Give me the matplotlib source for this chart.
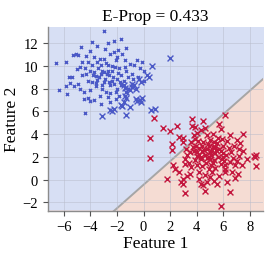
import numpy as np
import matplotlib.pyplot as plt

plt.rcParams['font.family'] = ['Liberation Serif', 'DejaVu Serif']

# cluster 1: small markers
blue_small_x = [-6.6, -6.4, -5.8, -5.75, -5.6, -5.35, -5.3, -5.1, -4.9, -5.5, -5.2, -4.9, -4.7, -4.6,
                -4.8, -4.5, -4.5, -4.4, -4.35, -4.2, -4.15, -4.0, -4.05, -3.9, -3.85, -3.7, -3.6, -3.5,
                -3.5, -3.35, -3.3, -3.15, -3.0, -3.0, -3.0, -2.85, -2.7, -2.7, -2.6, -2.5, -2.5, -2.35,
                -2.2, -2.2, -2.1, -2.0, -2.0, -1.9, -1.85, -1.7, -1.7, -1.6, -1.5, -1.4, -1.35, -1.2,
                -1.0, -0.9, -0.8, -0.5, -0.3, -0.1, 0.0, 0.0, -2.1, -2.5, -3.2, -3.7, -2.7, -3.1, -4.0,
                -4.2, -3.2, -2.7, -2.35, -2.1, -1.85, -1.7, -3.8, -3.5, -3.2, -2.9, -2.6, -2.3, -3.4,
                -3.0, -2.8, -2.4, -1.9, -2.2, -3.6, -4.0, -4.4, -3.9, -3.1, -2.5, -1.8, -1.4, -1.2, -0.7,
                -0.4, -4.6, -5.0, -4.8, -3.3, -2.0, -2.9, -1.3, -3.7, -4.3, -5.8, -3.6, -2.75, -2.15]
blue_small_y = [10.3, 7.85, 8.2, 7.5, 9.0, 9.0, 11.0, 11.1, 11.0, 8.5, 8.2, 8.4, 11.7, 10.4,
                9.9, 7.7, 7.1, 5.9, 9.3, 8.7, 7.2, 6.9, 11.3, 12.1, 10.1, 9.5, 8.2, 11.8,
                10.35, 9.0, 7.4, 9.6, 13.1, 10.65, 8.6, 7.7, 12.0, 10.05, 9.2, 11.1, 8.3, 9.6,
                12.2, 11.2, 10.5, 8.9, 8.0, 11.4, 9.85, 12.4, 9.2, 11.1, 8.7, 10.5, 9.6, 8.0,
                10.2, 9.3, 8.9, 10.5, 9.8, 10.35, 9.6, 8.7, 7.1, 6.8, 6.7, 7.0, 7.3, 8.0, 7.85,
                10.35, 10.05, 9.6, 8.7, 7.7, 7.4, 8.3, 9.2, 8.8, 9.3, 8.9, 8.6, 9.0, 9.8,
                9.5, 10.3, 10.0, 9.4, 8.4, 8.5, 9.6, 9.8, 8.6, 8.3, 7.6, 8.6, 9.9, 9.0, 10.1,
                9.0, 9.2, 9.7, 8.0, 10.6, 10.8, 11.5, 11.6, 10.8, 10.9, 10.4, 9.1, 9.3, 9.9]

# cluster 1: large markers
blue_big_x = [2.0, 0.65, 0.28, 0.4, -0.35, -0.2, -0.7, -0.85, -0.6, -1.0, -0.85, -1.5, -1.4, -1.35,
              -1.4, -1.35, -1.5, -0.55, -0.3, -0.1, -0.2, -0.5, -1.0, -1.6, -1.7, -2.2, -2.5, -2.35,
              -1.35, -3.1, 0.6, 0.9]
blue_big_y = [10.7, 10.0, 9.2, 9.0, 8.9, 8.6, 8.35, 8.15, 8.0, 7.85, 8.45, 8.35, 8.05, 7.7,
              7.4, 7.2, 6.8, 7.1, 7.0, 7.2, 6.8, 6.9, 6.4, 6.5, 6.6, 6.2, 6.1, 6.0,
              5.7, 5.6, 6.1, 6.25]

# cluster 2
red_x = [0.5, 0.5, 0.8, 1.45, 2.0, 2.15, 2.15, 2.5, 2.65, 3.0, 2.95, 1.8, 2.2, 2.4, 2.65, 2.8, 3.0,
         3.1, 3.0, 3.15, 3.15, 3.4, 3.3, 3.5, 3.55, 3.65, 3.65, 3.8, 3.9, 3.95, 4.0, 4.05, 4.15,
         4.2, 4.3, 4.5, 4.65, 4.5, 4.65, 4.8, 4.9, 5.0, 5.0, 5.1, 5.15, 5.3, 5.5, 5.65, 5.8, 5.9,
         6.0, 5.8, 5.9, 6.1, 6.15, 6.3, 5.8, 6.5, 6.15, 6.5, 6.8, 7.0, 7.2, 7.15, 6.9, 7.1, 6.65,
         6.5, 7.5, 7.8, 8.3, 8.5, 8.5, 8.4, 7.4,
         4.2, 4.4, 4.6, 4.8, 5.2, 5.4, 4.3, 4.7, 5.3, 5.6, 4.1, 4.5, 5.0, 5.5, 3.8, 3.9, 4.4, 4.9,
         5.4, 5.8, 6.2, 6.4, 6.0, 5.7, 4.6, 5.0, 3.6, 3.3, 3.2, 4.0, 4.3, 5.2, 5.6, 6.3, 6.6, 6.7,
         3.5, 4.8, 4.2, 4.9, 5.1, 5.3, 4.4, 3.9, 6.1, 5.7, 6.9, 7.3, 7.5, 7.0, 4.55, 5.05, 4.75,
         5.45, 4.35, 5.25, 4.05, 3.75, 6.05, 5.95, 4.85, 5.35]
red_y = [1.9, 3.65, 5.4, 4.5, 4.3, 3.15, 2.6, 4.75, 3.75, 3.65, 3.3, 0.05, 1.3, 0.95, 0.65, -0.2, -0.4,
         -1.2, 0.05, 1.4, 1.8, 1.5, 0.35, 2.4, 3.3, 4.75, 5.35, 3.9, 4.6, 3.0, 2.1, 1.25, 0.65,
         0.05, -0.4, -0.5, -1.0, 5.2, 4.5, 3.9, 3.0, 2.4, 1.8, 1.25, 0.65, -0.1, -0.4, 4.9, 4.45, 3.6,
         3.0, 2.55, 1.8, 1.25, 0.65, -0.25, -2.3, -1.1, 5.65, 3.9, 3.0, 3.45, 2.7, 2.1, 1.25, 0.5, 0.65,
         1.55, 4.0, 1.8, 2.1, 1.2, 2.2, 2.0, 1.3,
         2.8, 2.5, 2.2, 2.7, 2.9, 2.3, 1.8, 1.5, 1.7, 2.0, 3.4, 3.3, 3.5, 3.2, 2.5, 1.7, 1.2, 0.9,
         1.0, 1.4, 2.2, 2.8, 2.0, 2.7, 0.4, 0.2, 1.1, 2.2, 2.7, 4.1, 4.4, 4.0, 3.7, 3.4, 2.4, 1.9,
         0.5, -0.2, 2.2, 2.0, 2.5, 3.3, 3.0, 3.6, 0.9, 0.3, 0.1, 3.2, 2.5, 1.6, 2.6, 2.2, 1.9,
         2.6, 2.0, 1.5, 2.4, 2.9, 1.6, 2.3, 3.1, 2.9]

# decision boundary y = w*x + b
w = 1.036
b = -0.46
title = 'E-Prop = 0.433'

xlim = (-7.2, 9.0)
ylim = (-2.74, 13.46)

fig = plt.figure(figsize=(2.69, 2.55), dpi=100)
ax = fig.add_axes([0.178, 0.170, 0.800, 0.721])

xs = np.linspace(xlim[0], xlim[1], 200)
ys = w * xs + b
ax.fill_between(xs, ys, ylim[1], color='#d7dff4', zorder=0)
ax.fill_between(xs, ylim[0], ys, color='#f5dcd3', zorder=0)
ax.plot(xs, ys, color='#a6a6a6', lw=1.4, zorder=1)

ax.scatter(blue_small_x, blue_small_y, marker='x', s=5, linewidths=1.0, color='#4a58c6', zorder=3)
ax.scatter(blue_big_x, blue_big_y, marker='x', s=18, linewidths=1.0, color='#4a58c6', zorder=3)
ax.scatter(red_x, red_y, marker='x', s=18, linewidths=1.0, color='#c3163d', zorder=3)

ax.set_xlim(xlim)
ax.set_ylim(ylim)
ax.set_xticks([-6, -4, -2, 0, 2, 4, 6, 8])
ax.set_yticks([-2, 0, 2, 4, 6, 8, 10, 12])
ax.grid(True, color='#b8bccb', lw=0.6, alpha=0.6, zorder=0.5)
ax.set_axisbelow(False)
for s in ['top', 'right']:
    ax.spines[s].set_visible(False)
for s in ['left', 'bottom']:
    ax.spines[s].set_color('#8c8c8c')
    ax.spines[s].set_linewidth(1.0)
ax.tick_params(labelsize=10.5, color='#555555', length=3.5)
ax.set_xlabel('Feature 1', fontsize=12.5, labelpad=1)
ax.set_ylabel('Feature 2', fontsize=12.5, labelpad=2)
ax.set_title(title, fontsize=12.5, pad=5)

fig.savefig('out.png', dpi=100)
